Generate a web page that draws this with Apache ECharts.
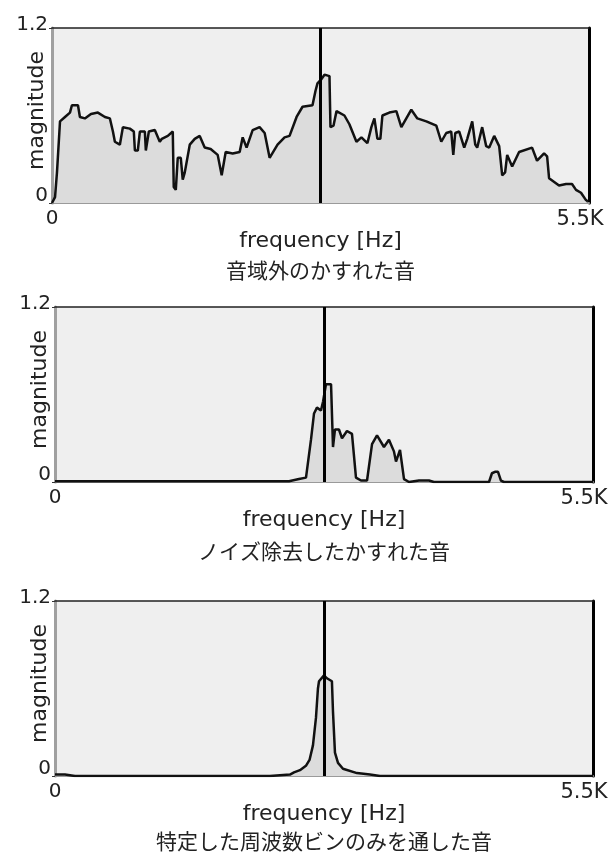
<!DOCTYPE html>
<html>
<head>
<meta charset="utf-8">
<script src="https://cdn.jsdelivr.net/npm/echarts@6/dist/echarts.min.js"></script>
<style>
html, body { margin: 0; padding: 0; background: #fff; }
#main { width: 614px; height: 854px; }
</style>
</head>
<body>
<div id="main"></div>
<script>
// spectrum values (Hz, magnitude)
var freq1 = [0,31,51,82,133,184,204,266,286,337,399,470,542,593,624,644,695,726,797,838,849,879,900,951,961,981,992,1053,1104,1125,1186,1237,1247,1268,1288,1319,1339,1360,1411,1462,1513,1564,1625,1697,1738,1779,1850,1922,1953,1993,2055,2126,2178,2229,2249,2310,2382,2433,2505,2566,2668,2699,2719,2760,2791,2842,2852,2883,2914,2995,3046,3118,3169,3230,3271,3302,3333,3363,3384,3455,3527,3578,3629,3680,3742,3834,3936,3987,4038,4089,4110,4130,4171,4222,4253,4304,4335,4355,4406,4447,4478,4529,4580,4611,4641,4662,4713,4784,4917,4968,5040,5071,5091,5193,5265,5326,5367,5418,5469,5490];
var mag1 = [0,0.04,0.21,0.56,0.59,0.62,0.67,0.67,0.59,0.58,0.61,0.62,0.59,0.58,0.49,0.42,0.40,0.52,0.51,0.49,0.36,0.36,0.49,0.49,0.36,0.36,0.49,0.50,0.42,0.44,0.46,0.49,0.11,0.09,0.31,0.31,0.16,0.21,0.40,0.44,0.46,0.38,0.37,0.33,0.19,0.35,0.34,0.35,0.45,0.38,0.50,0.52,0.48,0.31,0.30,0.40,0.45,0.46,0.59,0.66,0.67,0.77,0.82,0.85,0.88,0.87,0.52,0.53,0.63,0.60,0.54,0.42,0.45,0.41,0.52,0.58,0.44,0.44,0.60,0.62,0.63,0.52,0.58,0.64,0.58,0.56,0.53,0.42,0.48,0.49,0.33,0.48,0.49,0.38,0.44,0.56,0.40,0.38,0.52,0.39,0.38,0.46,0.39,0.19,0.21,0.33,0.25,0.35,0.38,0.29,0.34,0.32,0.17,0.12,0.13,0.13,0.09,0.07,0.02,0.01];

var freq2 = [0,2392,2494,2566,2617,2648,2678,2719,2740,2770,2822,2842,2862,2903,2934,2985,3036,3077,3128,3190,3241,3292,3363,3414,3465,3486,3527,3568,3619,3721,3823,3874,4437,4467,4498,4529,4559,4590,5500];
var mag2 = [0.005,0.005,0.02,0.03,0.29,0.47,0.51,0.49,0.55,0.67,0.67,0.24,0.36,0.36,0.30,0.35,0.33,0.03,0.01,0.01,0.26,0.32,0.24,0.29,0.21,0.14,0.22,0.02,0,0.01,0.01,0,0,0.06,0.07,0.07,0.01,0,0];

var freq3 = [0,102,204,2197,2402,2443,2504,2565,2602,2637,2668,2688,2699,2750,2780,2831,2842,2862,2893,2944,3087,3220,3322,5500];
var mag3 = [0.01,0.01,0,0,0.01,0.025,0.04,0.07,0.11,0.21,0.40,0.60,0.65,0.69,0.67,0.65,0.44,0.16,0.09,0.05,0.02,0.01,0,0];

var markerFreq = 2750;
var xTickLabels = ['0', '5.5K'];
var yTickLabels = ['0', '1.2'];
var xName = 'frequency [Hz]';
var yName = 'magnitude';
var captions = ['音域外のかすれた音', 'ノイズ除去したかすれた音', '特定した周波数ビンのみを通した音'];

var font = 'DejaVu Sans';
var jpFont = 'Noto Sans CJK JP';
var textColor = '#222';

var panels = [
	{ freq: freq1, mag: mag1, left: 52, top: 28, width: 537, captionTop: 258 },
	{ freq: freq2, mag: mag2, left: 55, top: 307, width: 538, captionTop: 539 },
	{ freq: freq3, mag: mag3, left: 55, top: 601, width: 538, captionTop: 829 }
];

var chart = echarts.init(document.getElementById('main'));

var grids = [], xAxes = [], yAxes = [], series = [], titles = [];

panels.forEach(function (p, i) {
	grids.push({
		left: p.left, top: p.top, width: p.width, height: 175,
		outerBoundsMode: 'none', containLabel: false,
		show: true, backgroundColor: '#efefef', borderWidth: 0
	});
	// bottom axis (gray) with labels and name
	xAxes.push({
		gridIndex: i, type: 'value', min: 0, max: 5500, interval: 5500,
		axisLine: { onZero: false, lineStyle: { color: '#9a9a9a', width: 2 } },
		axisTick: { show: false },
		splitLine: { show: false },
		axisLabel: {
			margin: 6, fontFamily: font, fontSize: 20, color: textColor,
			formatter: function (v) {
				return v === 0 ? xTickLabels[0] : '{r|' + xTickLabels[1] + '}';
			},
			rich: { r: { fontFamily: font, fontSize: 21, color: textColor, padding: [0, 18, 0, 0] } }
		},
		name: xName, nameLocation: 'middle', nameGap: 27, nameMoveOverlap: false,
		nameTextStyle: { fontFamily: font, fontSize: 22, color: textColor }
	});
	// top border
	xAxes.push({
		gridIndex: i, type: 'value', position: 'top', min: 0, max: 5500,
		axisLine: { onZero: false, lineStyle: { color: '#222', width: 1.5 } },
		axisTick: { show: false }, axisLabel: { show: false }, splitLine: { show: false }
	});
	yAxes.push({
		gridIndex: i, type: 'value', position: 'left', min: 0, max: 1.2, interval: 1.2,
		axisLine: { onZero: false, lineStyle: { color: '#a0a0a0', width: 3 } },
		axisTick: { show: true, length: 3, lineStyle: { color: '#333' } },
		splitLine: { show: false },
		axisLabel: {
			margin: 4, fontFamily: font, fontSize: 20, color: textColor,
			formatter: function (v) {
				return v === 0 ? '{a|' + yTickLabels[0] + '}' : '{b|' + yTickLabels[1] + '}';
			},
			rich: {
				a: { fontFamily: font, fontSize: 20, color: textColor, padding: [0, 0, 14, 0] },
				b: { fontFamily: font, fontSize: 20, color: textColor, padding: [0, 0, 6, 0] }
			}
		},
		name: yName, nameLocation: 'middle', nameGap: 4, nameMoveOverlap: false,
		nameTextStyle: { fontFamily: font, fontSize: 22, color: textColor, padding: [0, 0, 0, 10] }
	});
	// right border
	yAxes.push({
		gridIndex: i, type: 'value', position: 'right', min: 0, max: 1.2,
		axisLine: { onZero: false, lineStyle: { color: '#000', width: 3 } },
		axisTick: { show: false }, axisLabel: { show: false }, splitLine: { show: false }
	});

	var pts = p.freq.map(function (f, k) { return [f, p.mag[k]]; });
	series.push({
		type: 'line', xAxisIndex: 2 * i, yAxisIndex: 2 * i,
		data: pts, showSymbol: false, symbol: 'none',
		lineStyle: { color: '#111', width: 2.5 },
		areaStyle: { color: '#dcdcdc', opacity: 1 },
		markLine: {
			silent: true, symbol: 'none', label: { show: false },
			lineStyle: { color: '#000', width: 3, type: 'solid' },
			data: [{ xAxis: markerFreq }]
		},
		z: 2
	});

	titles.push({
		text: captions[i], left: p.left + p.width / 2, top: p.captionTop,
		textAlign: 'center', padding: 0,
		textStyle: { fontFamily: jpFont, fontSize: 21, fontWeight: 'normal', color: textColor, lineHeight: 24 }
	});
});

var option = {
	animation: false,
	title: titles,
	grid: grids,
	xAxis: xAxes,
	yAxis: yAxes,
	series: series
};
chart.setOption(option);
</script>
</body>
</html>
